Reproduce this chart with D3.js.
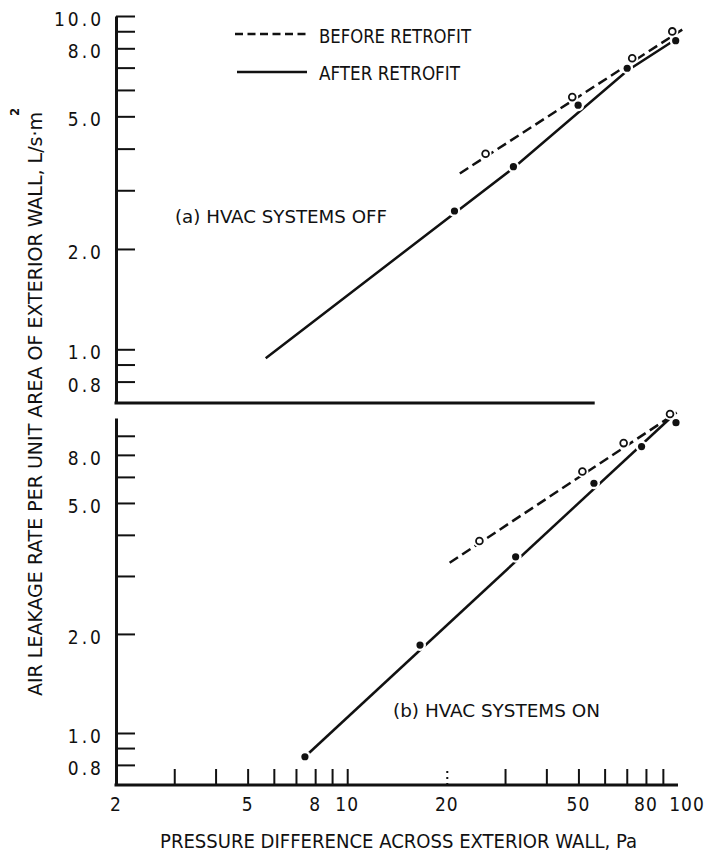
<!DOCTYPE html>
<html>
<head>
<meta charset="utf-8">
<script src="https://cdn.jsdelivr.net/npm/d3@7"></script>
<style>
  html, body { margin: 0; padding: 0; background: #fff; }
  svg text { font-family: "Liberation Sans Narrow", "DejaVu Sans Condensed", "Liberation Sans", sans-serif; fill: #111; }
</style>
</head>
<body>
<div id="chart"></div>
<script>
// x ticks and labels (pressure difference, Pa)
const xTicks = [3, 4, 5, 6, 7, 8, 9, 10, 20, 30, 40, 50, 60, 70, 80, 90];
const xLabels = [2, 5, 8, 10, 20, 50, 80, 100];

// y ticks and labels (leakage rate, L/s·m²)
const yTicksA = [0.8, 0.9, 1, 2, 3, 4, 5, 6, 7, 8, 9, 10];
const yLabelsA = [["10.0", 10], ["8.0", 8], ["5.0", 5], ["2.0", 2], ["1.0", 1], ["0.8", 0.8]];
const yTicksB = [0.8, 0.9, 1, 2, 3, 4, 5, 6, 7, 8];
const yLabelsB = [["8.0", 7], ["5.0", 5], ["2.0", 2], ["1.0", 1], ["0.8", 0.8]];

// (a) HVAC systems off
const beforeA = [[26.2, 3.86], [47.9, 5.71], [72.7, 7.47], [96.1, 8.99]];
const afterA = [[21.1, 2.60], [31.8, 3.53], [49.9, 5.40], [70.2, 6.97], [98.4, 8.43]];
const beforeLineA = [[21.9, 3.37], [103, 9.1]];
const afterLineA = [[5.67, 0.94], [31.8, 3.50], [70.2, 6.85], [101, 8.65]];

// (b) HVAC systems on
const beforeB = [[25.1, 3.83], [51.4, 6.23], [68.5, 7.60], [94.6, 9.32]];
const afterB = [[7.45, 0.847], [16.6, 1.85], [32.3, 3.43], [55.7, 5.74], [77.6, 7.42], [98.6, 8.77]];
const beforeLineB = [[20.4, 3.29], [99.1, 9.41]];
const afterLineB = [[7.45, 0.847], [97, 9.25]];

const W = 708, H = 859;
const ink = "#111";

const svg = d3.select("#chart").append("svg")
    .attr("width", W)
    .attr("height", H);

const x = d3.scaleLog().domain([2, 100]).range([116, 678]);
const yA = d3.scaleLog().domain([0.69, 10]).range([403, 16]);
const yB = d3.scaleLog().domain([0.695, 9.06]).range([785, 418]);

function drawPanel(y, ticks, labels, xEnd) {
    const g = svg.append("g");

    // left axis with ticks pointing into the plot
    g.append("g")
        .attr("transform", "translate(116,0)")
        .call(d3.axisRight(y).tickValues(ticks).tickSize(19).tickSizeOuter(0).tickFormat(""))
        .call(a => a.select(".domain").attr("stroke", ink).attr("stroke-width", 3))
        .call(a => a.selectAll(".tick line").attr("stroke", ink).attr("stroke-width", 2));

    // bottom line
    g.append("line")
        .attr("x1", 114.5).attr("x2", x(xEnd))
        .attr("y1", y.range()[0]).attr("y2", y.range()[0])
        .attr("stroke", ink).attr("stroke-width", 3);

    g.selectAll(".ylab")
        .data(labels)
        .enter().append("text")
        .attr("x", 104)
        .attr("y", d => y(d[1]) + 3)
        .attr("text-anchor", "end")
        .attr("dominant-baseline", "central")
        .style("font-size", "19px")
        .style("letter-spacing", "3px")
        .text(d => d[0]);
}

function drawSeries(y, before, after, beforeLine, afterLine) {
    const line = d3.line().x(d => x(d[0])).y(d => y(d[1]));

    svg.append("path")
        .datum(beforeLine)
        .attr("fill", "none")
        .attr("stroke", ink)
        .attr("stroke-width", 2.5)
        .attr("stroke-dasharray", "10,5")
        .attr("d", line);

    svg.append("path")
        .datum(afterLine)
        .attr("fill", "none")
        .attr("stroke", ink)
        .attr("stroke-width", 2.5)
        .attr("d", line);

    // white halo around markers: the lines break at each point
    svg.append("g").selectAll("circle")
        .data(before.concat(after))
        .enter().append("circle")
        .attr("cx", d => x(d[0])).attr("cy", d => y(d[1]))
        .attr("r", 6).attr("fill", "#fff");

    svg.append("g").selectAll("circle")
        .data(before)
        .enter().append("circle")
        .attr("cx", d => x(d[0])).attr("cy", d => y(d[1]))
        .attr("r", 3.4)
        .attr("fill", "#fff")
        .attr("stroke", ink)
        .attr("stroke-width", 1.8);

    svg.append("g").selectAll("circle")
        .data(after)
        .enter().append("circle")
        .attr("cx", d => x(d[0])).attr("cy", d => y(d[1]))
        .attr("r", 3.6)
        .attr("fill", ink);
}

drawPanel(yA, yTicksA, yLabelsA, 56);
drawPanel(yB, yTicksB, yLabelsB, 100);

// x ticks on the lower panel, pointing up
svg.append("g")
    .attr("transform", "translate(0,785)")
    .call(d3.axisTop(x).tickValues(xTicks).tickSize(16).tickFormat(""))
    .call(a => a.select(".domain").remove())
    .call(a => a.selectAll(".tick line")
        .attr("stroke", ink)
        .attr("stroke-width", 2)
        .attr("stroke-dasharray", d => d === 20 ? "2,4" : null));

svg.selectAll(".xlab")
    .data(xLabels)
    .enter().append("text")
    .attr("x", d => x(d) + (d === 100 ? 9 : 0))
    .attr("y", 811)
    .attr("text-anchor", "middle")
    .style("font-size", "19px")
    .style("letter-spacing", "1px")
    .text(d => d);

drawSeries(yA, beforeA, afterA, beforeLineA, afterLineA);
drawSeries(yB, beforeB, afterB, beforeLineB, afterLineB);

// legend
const legend = svg.append("g");
legend.append("line")
    .attr("x1", 235).attr("x2", 307).attr("y1", 34).attr("y2", 34)
    .attr("stroke", ink).attr("stroke-width", 2.4).attr("stroke-dasharray", "8,4.5");
legend.append("line")
    .attr("x1", 237).attr("x2", 307).attr("y1", 72).attr("y2", 72)
    .attr("stroke", ink).attr("stroke-width", 2.6);
legend.append("text")
    .attr("x", 319).attr("y", 43)
    .attr("textLength", 152).attr("lengthAdjust", "spacingAndGlyphs")
    .style("font-size", "20px")
    .text("BEFORE RETROFIT");
legend.append("text")
    .attr("x", 319).attr("y", 80)
    .attr("textLength", 141).attr("lengthAdjust", "spacingAndGlyphs")
    .style("font-size", "20px")
    .text("AFTER RETROFIT");

// panel captions
svg.append("text")
    .attr("x", 175).attr("y", 223)
    .attr("textLength", 212).attr("lengthAdjust", "spacingAndGlyphs")
    .style("font-size", "18px")
    .text("(a) HVAC SYSTEMS OFF");
svg.append("text")
    .attr("x", 393).attr("y", 717)
    .attr("textLength", 207).attr("lengthAdjust", "spacingAndGlyphs")
    .style("font-size", "18px")
    .text("(b) HVAC SYSTEMS ON");

// axis titles
svg.append("text")
    .attr("x", 160).attr("y", 848)
    .attr("textLength", 477).attr("lengthAdjust", "spacingAndGlyphs")
    .style("font-size", "20px")
    .text("PRESSURE DIFFERENCE ACROSS EXTERIOR WALL, Pa");

const yTitle = svg.append("g").attr("transform", "translate(42,696) rotate(-90)");
yTitle.append("text")
    .attr("x", 0).attr("y", 0)
    .attr("textLength", 584).attr("lengthAdjust", "spacingAndGlyphs")
    .style("font-size", "20px")
    .text("AIR LEAKAGE RATE PER UNIT AREA OF EXTERIOR WALL, L/s·m");
yTitle.append("text")
    .attr("x", 580).attr("y", -23)
    .style("font-size", "13px")
    .style("font-weight", "bold")
    .text("2");
</script>
</body>
</html>
